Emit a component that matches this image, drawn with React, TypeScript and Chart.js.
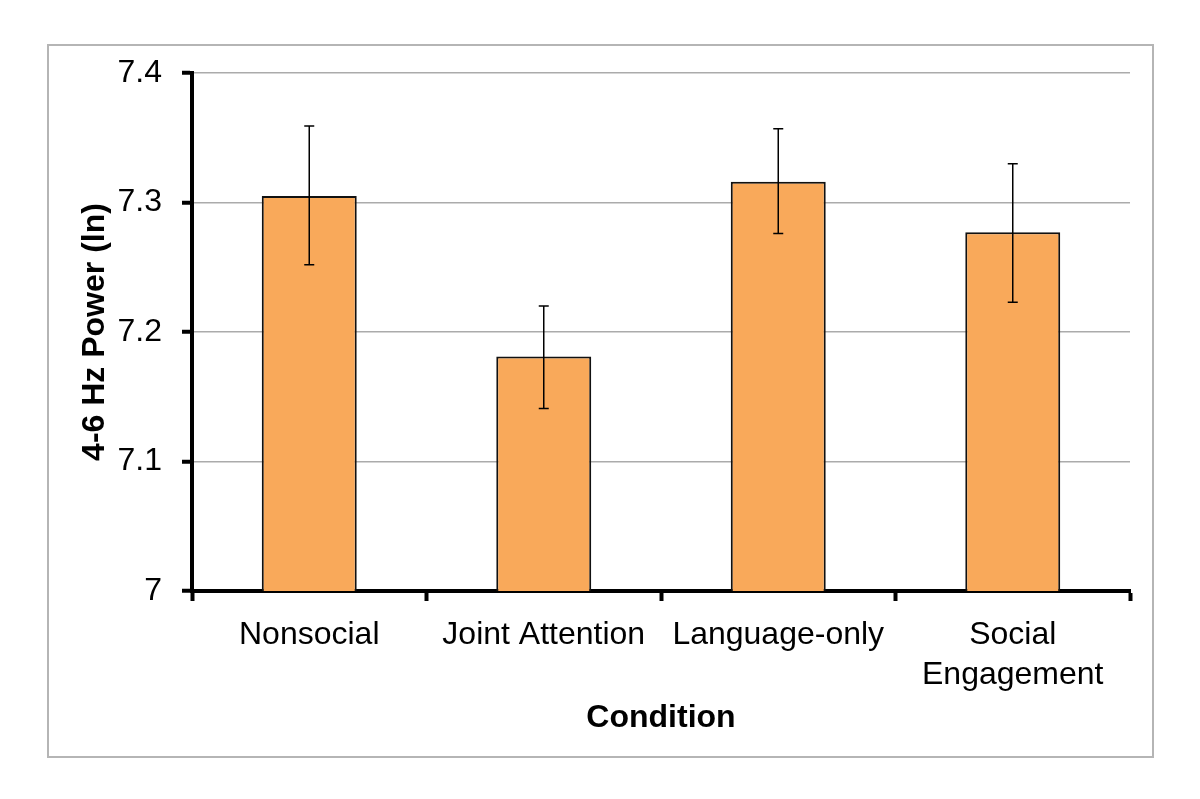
import React, { useEffect, useRef } from "react";
import { Chart, registerables } from "chart.js";

Chart.register(...registerables);

const categories: (string | string[])[] = [
  "Nonsocial",
  "Joint Attention",
  "Language-only",
  ["Social", "Engagement"],
];
const meanPower: number[] = [7.305, 7.181, 7.316, 7.277];
const errorUpper: number[] = [7.359, 7.220, 7.357, 7.330];
const errorLower: number[] = [7.252, 7.141, 7.276, 7.223];
const yTickLabels: string[] = ["7", "7.1", "7.2", "7.3", "7.4"];

const FONT = "'Liberation Sans', Arial, Helvetica, sans-serif";

const frameAndErrorBars = {
  id: "frameAndErrorBars",
  beforeDraw(chart: any) {
    const ctx = chart.ctx;
    ctx.save();
    ctx.fillStyle = "#ffffff";
    ctx.fillRect(0, 0, chart.width, chart.height);
    ctx.strokeStyle = "#b5b5b5";
    ctx.lineWidth = 2;
    ctx.strokeRect(48, 45, 1105, 712);
    ctx.restore();
  },
  afterDatasetsDraw(chart: any) {
    const ctx = chart.ctx;
    const meta = chart.getDatasetMeta(0);
    const y = chart.scales.y;
    ctx.save();
    ctx.strokeStyle = "#000000";
    ctx.lineWidth = 1.5;
    meta.data.forEach((bar: any, i: number) => {
      const x = bar.x;
      const yTop = y.getPixelForValue(errorUpper[i]);
      const yBot = y.getPixelForValue(errorLower[i]);
      ctx.beginPath();
      ctx.moveTo(x, yTop);
      ctx.lineTo(x, yBot);
      ctx.moveTo(x - 5, yTop);
      ctx.lineTo(x + 5, yTop);
      ctx.moveTo(x - 5, yBot);
      ctx.lineTo(x + 5, yBot);
      ctx.stroke();
    });
    ctx.restore();
  },
};

export default function App() {
  const canvasRef = useRef<HTMLCanvasElement | null>(null);

  useEffect(() => {
    document.body.style.margin = "0";
    const canvas = canvasRef.current;
    if (!canvas) return;
    const chart = new Chart(canvas, {
      type: "bar",
      data: {
        labels: categories as any,
        datasets: [
          {
            data: meanPower,
            backgroundColor: "#F9A95A",
            borderColor: "#111111",
            borderWidth: 2,
            barPercentage: 0.405,
            categoryPercentage: 1,
          },
        ],
      },
      options: {
        responsive: false,
        animation: false,
        devicePixelRatio: 1,
        layout: { padding: { left: 60, top: 73, right: 70, bottom: 40 } },
        plugins: {
          legend: { display: false },
          tooltip: { enabled: false },
        },
        scales: {
          x: {
            afterFit(scale: any) {
              scale.height = 799 - 591 - 40;
            },
            border: { display: true, color: "#000000", width: 4 },
            grid: {
              offset: true,
              drawOnChartArea: false,
              drawTicks: true,
              tickLength: 10,
              tickColor: "#000000",
              tickWidth: 4,
            },
            ticks: {
              color: "#000000",
              padding: 14,
              maxRotation: 0,
              autoSkip: false,
              font: { family: FONT, size: 32, lineHeight: 1.25 },
            },
            title: {
              display: true,
              text: "Condition",
              color: "#000000",
              font: { family: FONT, size: 32, weight: "bold" },
              padding: { top: 0, bottom: 22 },
            },
          },
          y: {
            min: 7,
            max: 7.4,
            afterFit(scale: any) {
              scale.width = 192 - 60;
            },
            border: { display: true, color: "#000000", width: 4 },
            grid: {
              color: "#ababab",
              lineWidth: 1.5,
              drawTicks: true,
              tickLength: 10,
              tickColor: "#000000",
              tickWidth: 4,
            },
            ticks: {
              stepSize: 0.1,
              color: "#000000",
              padding: 20,
              font: { family: FONT, size: 32 },
              callback: (_v: any, i: number) => yTickLabels[i],
            },
            title: {
              display: true,
              text: "4-6 Hz Power (ln)",
              color: "#000000",
              font: { family: FONT, size: 32, weight: "bold" },
              padding: { top: 16, bottom: 0 },
            },
          },
        },
      },
      plugins: [frameAndErrorBars],
    });
    return () => chart.destroy();
  }, []);

  return (
    <div style={{ width: 1200, height: 799 }}>
      <canvas ref={canvasRef} width={1200} height={799} />
    </div>
  );
}
